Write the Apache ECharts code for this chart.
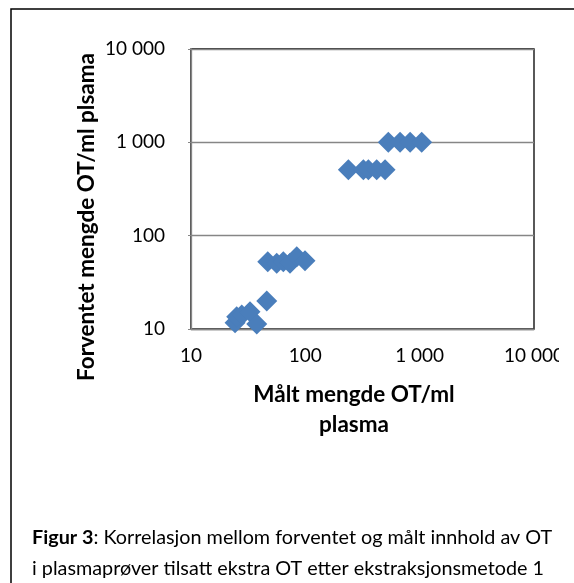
<!DOCTYPE html>
<html>
<head>
<meta charset="utf-8">
<script src="https://cdn.jsdelivr.net/npm/echarts@6/dist/echarts.min.js"></script>
<style>
  html, body { margin: 0; padding: 0; background: #fff; }
  #chart { width: 574px; height: 583px; }
</style>
</head>
<body>
<div id="chart"></div>
<script>
// målt (x) og forventet (y) mengde OT/ml plasma
var measured = [24.3, 25.1, 27.8, 32.8, 37.6, 46,
                46.9, 56.2, 64.2, 73.4, 84.1, 99.3,
                238, 322, 356, 421, 498,
                532, 674, 825, 1042];
var expected = [11.7, 13.5, 14.1, 15.3, 11.3, 20,
                52.6, 50.6, 52.6, 50.6, 59.6, 53.9,
                510, 510, 510, 510, 510,
                1000, 1000, 1000, 1000];

var points = [];
for (var i = 0; i < measured.length; i++) {
    points.push([measured[i], expected[i]]);
}

// tusenskille med mellomrom
function fmt(v) {
    return String(Math.round(v)).replace(/\B(?=(\d{3})+(?!\d))/g, ' ');
}

var font = 'Lato, "Noto Sans", sans-serif';
var myChart = echarts.init(document.getElementById('chart'));
myChart.setOption({
    backgroundColor: '#fff',
    animation: false,
    grid: {
        left: 191,
        top: 49,
        width: 343,
        height: 280,
        show: true,
        borderColor: '#000',
        borderWidth: 1.3,
        backgroundColor: 'transparent'
    },
    xAxis: {
        type: 'log',
        logBase: 10,
        min: 10,
        max: 10000,
        axisLine: { show: true, lineStyle: { color: '#868686', width: 1.3 } },
        axisTick: { show: false },
        splitLine: { show: false },
        axisLabel: {
            margin: 17,
            color: '#000',
            fontFamily: font,
            fontSize: 19,
            formatter: function (v) { return fmt(v); }
        }
    },
    yAxis: {
        type: 'log',
        logBase: 10,
        min: 10,
        max: 10000,
        axisLine: { show: true, lineStyle: { color: '#868686', width: 1.3 } },
        axisTick: { show: true, length: 3, lineStyle: { color: '#868686' } },
        splitLine: { show: true, lineStyle: { color: '#868686', width: 1.3 } },
        axisLabel: {
            margin: 26,
            color: '#000',
            fontFamily: font,
            fontSize: 19,
            formatter: function (v) { return fmt(v); }
        }
    },
    series: [{
        type: 'scatter',
        symbol: 'diamond',
        symbolSize: [21, 21],
        itemStyle: { color: '#4a7ebb', opacity: 1 },
        data: points
    }],
    graphic: [
        {
            type: 'rect',
            shape: { x: 11, y: 9, width: 700, height: 700 },
            style: { fill: 'none', stroke: '#000', lineWidth: 1.5 },
            z: -10
        },
        {
            // "10 000" er kuttet i originalen
            type: 'rect',
            shape: { x: 559, y: 338, width: 14, height: 34 },
            style: { fill: '#fff' },
            z: 100
        },
        {
            type: 'text',
            x: 87,
            y: 217,
            rotation: Math.PI / 2,
            style: {
                text: 'Forventet mengde OT/ml plsama',
                font: 'bold 22.5px ' + font,
                fill: '#000',
                align: 'center',
                verticalAlign: 'middle'
            }
        },
        {
            type: 'text',
            x: 354,
            y: 395,
            style: {
                text: 'Målt mengde OT/ml',
                font: 'bold 22.5px ' + font,
                fill: '#000',
                align: 'center',
                verticalAlign: 'middle'
            }
        },
        {
            type: 'text',
            x: 354,
            y: 425,
            style: {
                text: 'plasma',
                font: 'bold 22.5px ' + font,
                fill: '#000',
                align: 'center',
                verticalAlign: 'middle'
            }
        },
        {
            type: 'text',
            x: 32,
            y: 538,
            style: {
                rich: {
                    b: { fontFamily: font, fontSize: 19.8, fontWeight: 'bold', fill: '#000' },
                    n: { fontFamily: font, fontSize: 19.8, fill: '#000' }
                },
                text: '{b|Figur 3}{n|: Korrelasjon mellom forventet og målt innhold av OT}',
                verticalAlign: 'middle'
            }
        },
        {
            type: 'text',
            x: 32,
            y: 569,
            style: {
                text: 'i plasmaprøver tilsatt ekstra OT etter ekstraksjonsmetode 1',
                font: '19.8px ' + font,
                fill: '#000',
                verticalAlign: 'middle'
            }
        }
    ]
});
</script>
</body>
</html>
